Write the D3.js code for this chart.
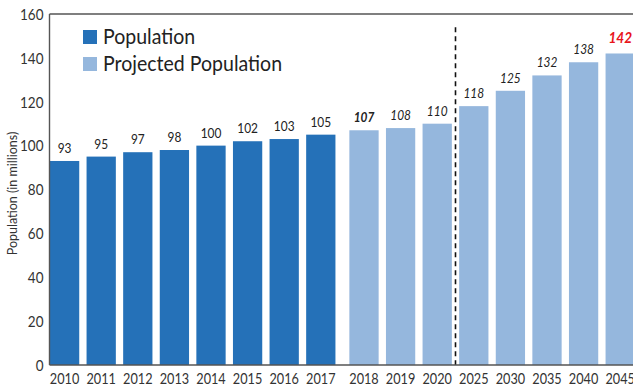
<!DOCTYPE html>
<html>
<head>
<meta charset="utf-8">
<script src="https://cdn.jsdelivr.net/npm/d3@7/dist/d3.min.js"></script>
<style>
  html, body { margin: 0; padding: 0; background: #fff; }
  svg { display: block; }
  text { font-family: Lato, 'Open Sans', sans-serif; }
</style>
</head>
<body>
<svg id="chart" width="633" height="388"></svg>
<script>
// ---- data ----
const years = ["2010","2011","2012","2013","2014","2015","2016","2017",
               "2018","2019","2020","2025","2030","2035","2040","2045"];
const populationYears = ["2010","2011","2012","2013","2014","2015","2016","2017"];
const populationValues = [93, 95, 97, 98, 100, 102, 103, 105];
const projectedYears = ["2018","2019","2020","2025","2030","2035","2040","2045"];
const projectedValues = [107, 108, 110, 118, 125, 132, 138, 142];
const yTicks = [0, 20, 40, 60, 80, 100, 120, 140, 160];
const seriesNames = ["Population", "Projected Population"];
const yTitle = "Population (in millions)";

// ---- layout / style ----
const W = 633, H = 388;
const plot = { left: 49.5, top: 14, bottom: 365 };
const colors = { pop: "#2571B8", proj: "#95B7DD" };
const groupGap = 6.6;

const svg = d3.select("#chart");

// place a text at (px,py) with horizontal squeeze sx (font looks condensed in the original)
function place(sel, px, py, sx) {
  sel.attr("x", 0).attr("y", 0)
     .attr("transform", (d, i) => `translate(${px(d, i)},${py(d, i)}) scale(${sx},1)`);
  return sel;
}

const y = d3.scaleLinear().domain([0, 160]).range([plot.bottom, plot.top]);
const xBand = d3.scaleBand().domain(years).range([46.3, 631.9])
  .paddingInner(0.2).paddingOuter(0.1);
const isProj = d => projectedYears.includes(d);
const x = d => xBand(d) + (isProj(d) ? groupGap : 0);
const bw = xBand.bandwidth();

const popData = populationYears.map((yr, i) => ({ year: yr, value: populationValues[i], type: "pop" }));
const projData = projectedYears.map((yr, i) => ({ year: yr, value: projectedValues[i], type: "proj" }));
const all = popData.concat(projData);

// top border
svg.append("line")
  .attr("x1", plot.left).attr("x2", W)
  .attr("y1", plot.top).attr("y2", plot.top)
  .attr("stroke", "#555").attr("stroke-width", 1.4);

// bars
svg.append("g").selectAll("rect").data(all).join("rect")
  .attr("x", d => x(d.year))
  .attr("width", bw)
  .attr("y", d => y(d.value))
  .attr("height", d => y(0) - y(d.value))
  .attr("fill", d => d.type === "pop" ? colors.pop : colors.proj);

// value labels
place(svg.append("g").selectAll("text").data(all).join("text"),
      d => x(d.year) + bw / 2,
      d => y(d.value) - (d.year === "2045" ? 10 : 8), 0.85)
  .attr("text-anchor", "middle")
  .attr("font-size", d => d.year === "2045" ? 16 : 14)
  .attr("font-style", d => d.type === "proj" ? "italic" : "normal")
  .attr("font-weight", d => (d.year === "2018" || d.year === "2045") ? "bold" : "normal")
  .attr("fill", d => d.year === "2045" ? "#E8141B" : "#222")
  .text(d => d.value);

// dashed divider between 2020 and 2025
const divX = (x("2020") + bw + x("2025")) / 2;
svg.append("line")
  .attr("x1", divX).attr("x2", divX)
  .attr("y1", y(154)).attr("y2", plot.bottom)
  .attr("stroke", "#111").attr("stroke-width", 1.6)
  .attr("stroke-dasharray", "5,4");

// y axis
svg.append("line")
  .attr("x1", plot.left).attr("x2", plot.left)
  .attr("y1", plot.top).attr("y2", plot.bottom)
  .attr("stroke", "#555").attr("stroke-width", 1.4);
place(svg.append("g").selectAll("text").data(yTicks).join("text"),
      () => plot.left - 6, d => y(d), 0.9)
  .attr("text-anchor", "end")
  .attr("dominant-baseline", "central")
  .attr("font-size", 15)
  .attr("fill", "#333")
  .text(d => d);

// x axis
svg.append("line")
  .attr("x1", plot.left).attr("x2", W)
  .attr("y1", plot.bottom).attr("y2", plot.bottom)
  .attr("stroke", "#555").attr("stroke-width", 1.4);
place(svg.append("g").selectAll("text").data(years).join("text"),
      d => x(d) + bw / 2, () => plot.bottom + 19, 0.82)
  .attr("text-anchor", "middle")
  .attr("font-size", 15.5)
  .attr("fill", "#333")
  .text(d => d);

// y title
svg.append("text")
  .attr("transform", `translate(17,${(122 + 265) / 2}) rotate(-90)`)
  .attr("text-anchor", "middle")
  .attr("font-size", 12.5)
  .attr("fill", "#333")
  .text(yTitle);

// legend
const legendColors = [colors.pop, colors.proj];
const legend = svg.append("g");
legend.selectAll("rect").data(seriesNames).join("rect")
  .attr("x", 83).attr("y", (d, i) => 30 + i * 27)
  .attr("width", 14).attr("height", 14)
  .attr("fill", (d, i) => legendColors[i]);
place(legend.selectAll("text").data(seriesNames).join("text"),
      () => 103, (d, i) => 30 + i * 27 + 14, 0.93)
  .attr("font-size", 21)
  .attr("fill", "#222")
  .text(d => d);
</script>
</body>
</html>
